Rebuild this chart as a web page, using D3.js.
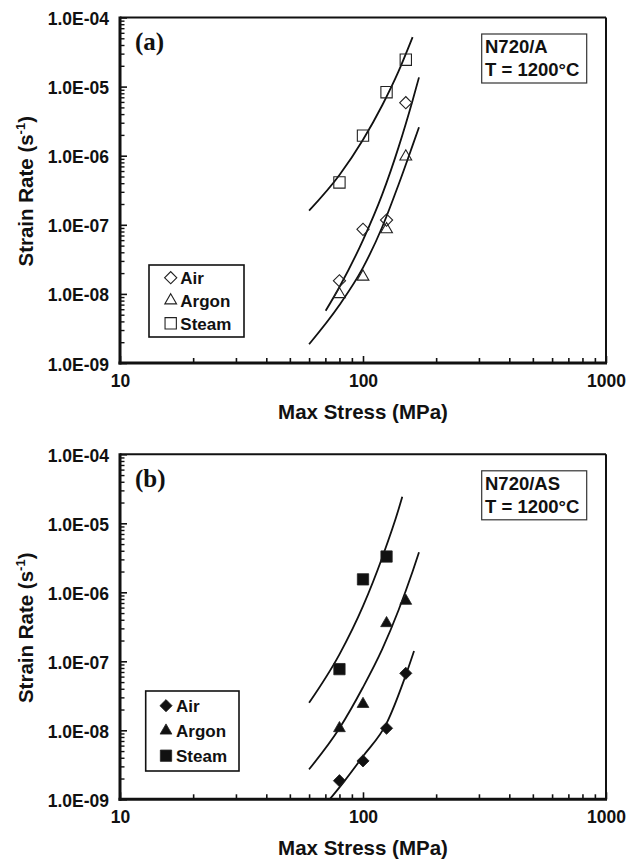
<!DOCTYPE html>
<html>
<head>
<meta charset="utf-8">
<script src="https://cdn.jsdelivr.net/npm/d3@7"></script>
<style>
  body { margin: 0; background: #fff; }
  text { font-family: "Liberation Sans", Arial, sans-serif; font-weight: bold; fill: #111; }
</style>
</head>
<body>
<div id="chart"></div>
<script>
// measured points (stress in MPa, strain rate in 1/s)
const stress = [80, 100, 125, 150];
const stressSteamB = [80, 100, 125];
const airA = [1.55e-8, 8.6e-8, 1.17e-7, 5.85e-6];
const argonA = [9.9e-9, 1.77e-8, 8.6e-8, 9.7e-7];
const steamA = [4.1e-7, 1.95e-6, 8.3e-6, 2.45e-5];
const airB = [1.86e-9, 3.6e-9, 1.07e-8, 6.7e-8];
const argonB = [1.07e-8, 2.4e-8, 3.56e-7, 7.5e-7];
const steamB = [7.7e-8, 1.54e-6, 3.3e-6];

// fit curves
const fitAirA = [[70.2, 5.7e-9], [80, 1.26e-8], [100, 6.0e-8], [120, 2.75e-7], [140, 1.32e-6], [160, 6.3e-6], [170, 1.36e-5]];
const fitArgonA = [[60, 1.87e-9], [80, 6.9e-9], [100, 2.4e-8], [120, 9.3e-8], [140, 3.8e-7], [160, 1.41e-6], [170, 2.58e-6]];
const fitSteamA = [[60, 1.6e-7], [80, 5.25e-7], [100, 1.7e-6], [120, 5.37e-6], [140, 1.66e-5], [160, 5.2e-5]];
const fitAirB = [[72.6, 9.8e-10], [82, 1.66e-9], [100, 4.2e-9], [125, 1.26e-8], [150, 6.3e-8], [162.2, 1.41e-7]];
const fitArgonB = [[60, 2.72e-9], [80, 1.07e-8], [100, 4.2e-8], [120, 1.5e-7], [140, 5.5e-7], [160, 2.0e-6], [170, 3.8e-6]];
const fitSteamB = [[60, 2.5e-8], [80, 1.26e-7], [100, 6.3e-7], [120, 3.2e-6], [140, 1.58e-5], [145.1, 2.43e-5]];

const xMajor = [10, 100, 1000];
const yMajor = [1e-9, 1e-8, 1e-7, 1e-6, 1e-5, 1e-4];
const seriesNames = ["Air", "Argon", "Steam"];

const svg = d3.select("#chart").append("svg")
  .attr("width", 627)
  .attr("height", 861);

const left = 120, right = 606;

const panels = [
  { id: "a", top: 17.5, bottom: 363, filled: false, material: "N720/A",
    air: [stress, airA], argon: [stress, argonA], steam: [stress, steamA],
    fits: [fitAirA, fitArgonA, fitSteamA],
    legend: { x: 149, y: 265, w: 95, h: 72, first: 12.7, step: 22.8, sx: 21.7, tx: 31.3 } },
  { id: "b", top: 454.3, bottom: 799.3, filled: true, material: "N720/AS",
    air: [stress, airB], argon: [stress, argonB], steam: [stressSteamB, steamB],
    fits: [fitAirB, fitArgonB, fitSteamB],
    legend: { x: 145.7, y: 691, w: 93.3, h: 80, first: 14.7, step: 25, sx: 20.3, tx: 30.3 } }
];

function minorTicks(lo, hi) {
  const out = [];
  for (let e = lo; e < hi; e++) {
    for (let k = 2; k <= 9; k++) out.push(k * Math.pow(10, e));
  }
  return out;
}

function expLabel(d) {
  const e = Math.round(Math.log10(d));
  return "1.0E" + (e < 0 ? "-" : "+") + String(Math.abs(e)).padStart(2, "0");
}

// marker shapes
const shapes = {
  Air: d3.symbol().type(d3.symbolSquare).size(74)(),
  Argon: d3.symbol().type(d3.symbolTriangle).size(60)(),
  Steam: d3.symbol().type(d3.symbolSquare).size(128)()
};
const rot = { Air: 45, Argon: 0, Steam: 0 };

panels.forEach(p => {
  const x = d3.scaleLog().domain([10, 1000]).range([left, right]);
  const y = d3.scaleLog().domain([1e-9, 1e-4]).range([p.bottom, p.top]);
  const g = svg.append("g");

  // clip for the fit lines
  svg.append("clipPath").attr("id", "clip-" + p.id)
    .append("rect")
    .attr("x", left).attr("y", p.top)
    .attr("width", right - left).attr("height", p.bottom - p.top);

  // y axis: minor + major, ticks inward
  g.append("g")
    .attr("transform", `translate(${left},0)`)
    .call(d3.axisLeft(y).tickValues(minorTicks(-9, -4)).tickSize(-4.5).tickFormat(""))
    .call(a => a.select(".domain").remove())
    .call(a => a.selectAll("line").attr("stroke", "#111").attr("stroke-width", 1.4));

  g.append("g")
    .attr("transform", `translate(${left},0)`)
    .call(d3.axisLeft(y).tickValues(yMajor).tickSize(-7).tickPadding(11).tickFormat(expLabel))
    .call(a => a.select(".domain").remove())
    .call(a => a.selectAll("line").attr("stroke", "#111").attr("stroke-width", 1.6))
    .call(a => a.selectAll("text").attr("font-size", "17.5px").attr("dy", "0.4em")
      .style("font-family", "'Liberation Sans', Arial, sans-serif").style("font-weight", "bold"));

  // x axis
  g.append("g")
    .attr("transform", `translate(0,${p.bottom})`)
    .call(d3.axisBottom(x).tickValues(minorTicks(1, 3)).tickSize(-5).tickFormat(""))
    .call(a => a.select(".domain").remove())
    .call(a => a.selectAll("line").attr("stroke", "#111").attr("stroke-width", 1.6));

  g.append("g")
    .attr("transform", `translate(0,${p.bottom})`)
    .call(d3.axisBottom(x).tickValues(xMajor).tickSize(-7).tickPadding(11.5).tickFormat(d3.format("d")))
    .call(a => a.select(".domain").remove())
    .call(a => a.selectAll("line").attr("stroke", "#111").attr("stroke-width", 1.6))
    .call(a => a.selectAll("text").attr("font-size", "17.5px")
      .style("font-family", "'Liberation Sans', Arial, sans-serif").style("font-weight", "bold"));

  // frame
  g.append("line").attr("x1", left).attr("x2", right).attr("y1", p.top).attr("y2", p.top)
    .attr("stroke", "#111").attr("stroke-width", 2);
  g.append("line").attr("x1", right).attr("x2", right).attr("y1", p.top).attr("y2", p.bottom)
    .attr("stroke", "#111").attr("stroke-width", 2);
  g.append("line").attr("x1", left).attr("x2", left).attr("y1", p.top - 1).attr("y2", p.bottom + 1.5)
    .attr("stroke", "#111").attr("stroke-width", 3);
  g.append("line").attr("x1", left - 1.5).attr("x2", right + 1).attr("y1", p.bottom).attr("y2", p.bottom)
    .attr("stroke", "#111").attr("stroke-width", 3);

  // fit lines
  const line = d3.line()
    .x(d => x(d[0]))
    .y(d => y(d[1]))
    .curve(d3.curveMonotoneX);

  g.append("g").attr("clip-path", `url(#clip-${p.id})`)
    .selectAll("path")
    .data(p.fits)
    .enter()
    .append("path")
    .attr("d", line)
    .attr("fill", "none")
    .attr("stroke", "#111")
    .attr("stroke-width", 1.8);

  // markers
  seriesNames.forEach(name => {
    const [xs, ys] = p[name.toLowerCase()];
    g.selectAll(null)
      .data(xs.map((v, i) => [v, ys[i]]))
      .enter()
      .append("path")
      .attr("d", shapes[name])
      .attr("transform", d => `translate(${x(d[0])},${y(d[1])}) rotate(${rot[name]})`)
      .attr("fill", p.filled ? "#111" : "none")
      .attr("stroke", "#222")
      .attr("stroke-width", p.filled ? 0.8 : 1.1);
  });

  // panel label
  g.append("text")
    .attr("x", 135)
    .attr("y", p.top + 32.5)
    .attr("font-size", "25px")
    .style("font-family", "'Liberation Serif', 'Times New Roman', serif")
    .text(`(${p.id})`);

  // material box
  g.append("rect")
    .attr("x", 481.7).attr("y", p.top + 16.5)
    .attr("width", 105).attr("height", 49)
    .attr("fill", "#fff").attr("stroke", "#333").attr("stroke-width", 1.2);
  g.append("text").attr("x", 485).attr("y", p.top + 35.6)
    .attr("font-size", "18.5px").text(p.material);
  g.append("text").attr("x", 485).attr("y", p.top + 58.5)
    .attr("font-size", "18.5px").text("T = 1200°C");

  // legend
  const L = p.legend;
  const legend = g.append("g").attr("transform", `translate(${L.x},${L.y})`);
  legend.append("rect")
    .attr("width", L.w).attr("height", L.h)
    .attr("fill", "#fff").attr("stroke", "#111").attr("stroke-width", 1.6);
  const items = legend.selectAll(".legend-item")
    .data(seriesNames)
    .enter()
    .append("g")
    .attr("class", "legend-item")
    .attr("transform", (d, i) => `translate(0,${L.first + i * L.step})`);
  items.append("path")
    .attr("d", d => shapes[d])
    .attr("transform", d => `translate(${L.sx},0) rotate(${rot[d]})`)
    .attr("fill", p.filled ? "#111" : "none")
    .attr("stroke", "#222")
    .attr("stroke-width", p.filled ? 0.8 : 1.1);
  items.append("text")
    .attr("x", L.tx)
    .attr("y", 6.2)
    .attr("font-size", "17px")
    .text(d => d);

  // axis titles
  g.append("text")
    .attr("x", (left + right) / 2)
    .attr("y", p.bottom + 55.5)
    .attr("text-anchor", "middle")
    .attr("font-size", "20.5px")
    .text("Max Stress (MPa)");

  const yt = g.append("text")
    .attr("transform", `translate(33,${(p.top + p.bottom) / 2 + 1}) rotate(-90)`)
    .attr("text-anchor", "middle")
    .attr("font-size", "20.5px");
  yt.append("tspan").text("Strain Rate (s");
  yt.append("tspan").attr("font-size", "13px").attr("dy", "-8").text("-1");
  yt.append("tspan").attr("dy", "8").text(")");
});
</script>
</body>
</html>
